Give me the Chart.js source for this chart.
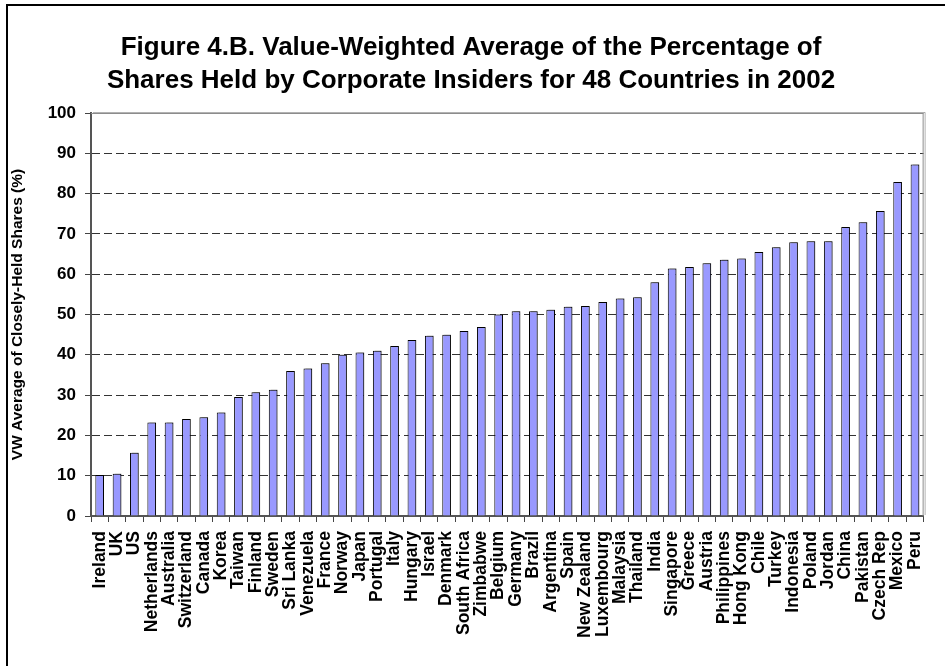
<!DOCTYPE html>
<html>
<head>
<meta charset="utf-8">
<title>Figure 4.B</title>
<script src="https://cdn.jsdelivr.net/npm/chart.js@4/dist/chart.umd.min.js"></script>
<style>
  html, body { margin: 0; padding: 0; background: #fff; }
  canvas { display: block; }
</style>
</head>
<body>
<canvas id="chart" width="945" height="666"></canvas>
<script>
const countries = [
  'Ireland', 'UK', 'US', 'Netherlands', 'Australia', 'Switzerland', 'Canada', 'Korea',
  'Taiwan', 'Finland', 'Sweden', 'Sri Lanka', 'Venezuela', 'France', 'Norway', 'Japan',
  'Portugal', 'Italy', 'Hungary', 'Israel', 'Denmark', 'South Africa', 'Zimbabwe', 'Belgium',
  'Germany', 'Brazil', 'Argentina', 'Spain', 'New Zealand', 'Luxembourg', 'Malaysia', 'Thailand',
  'India', 'Singapore', 'Greece', 'Austria', 'Philippines', 'Hong Kong', 'Chile', 'Turkey',
  'Indonesia', 'Poland', 'Jordan', 'China', 'Pakistan', 'Czech Rep', 'Mexico', 'Peru',
];
const insiderShares = [
  10.2, 10.5, 15.7, 23.2, 23.2, 24.1, 24.5, 25.7,
  29.5, 30.7, 31.3, 36.0, 36.6, 37.9, 40.0, 40.6,
  41.0, 42.2, 43.7, 44.7, 45.0, 45.9, 46.9, 50.0,
  50.8, 50.8, 51.2, 51.9, 52.1, 53.1, 54.0, 54.3,
  58.0, 61.4, 61.8, 62.7, 63.6, 63.9, 65.5, 66.7,
  67.9, 68.2, 68.2, 71.7, 72.9, 75.7, 82.9, 87.2,
];
const titleLines = [
  'Figure 4.B. Value-Weighted Average of the Percentage of',
  'Shares Held by Corporate Insiders for 48 Countries in 2002',
];
const yAxisTitle = 'VW Average of Closely-Held Shares (%)';
const yMin = 0;
const yMax = 100;
const yStep = 10;

const FONT = 'Arial, "Liberation Sans", sans-serif';

// white page, outer frame and the two-line title
const framePlugin = {
  id: 'frame',
  beforeDraw(chart) {
    const { ctx, width, height } = chart;
    ctx.save();
    ctx.fillStyle = '#fff';
    ctx.fillRect(0, 0, width, height);
    ctx.strokeStyle = '#000';
    ctx.lineWidth = 2;
    ctx.strokeRect(7, 5, width + 10, height + 10);
    ctx.fillStyle = '#000';
    ctx.font = `bold 26px ${FONT}`;
    ctx.textAlign = 'center';
    ctx.textBaseline = 'alphabetic';
    ctx.fillText(titleLines[0], 471, 55);
    ctx.fillText(titleLines[1], 471, 88);
    ctx.restore();
  },
  afterDatasetsDraw(chart) {
    const { ctx, chartArea } = chart;
    ctx.save();
    ctx.strokeStyle = '#8c8c8c';
    ctx.lineWidth = 1;
    ctx.beginPath();
    ctx.moveTo(chartArea.left, chartArea.top + 0.5);
    ctx.lineTo(chartArea.right - 0.5, chartArea.top + 0.5);
    ctx.lineTo(chartArea.right - 0.5, chartArea.bottom);
    ctx.stroke();
    ctx.restore();
  },
};

// grey drop shadow behind the bars, like the Excel original
const shadowPlugin = {
  id: 'barShadow',
  beforeDatasetsDraw(chart) {
    const { ctx } = chart;
    ctx.save();
    ctx.shadowColor = 'rgba(0, 0, 0, 0.3)';
    ctx.shadowOffsetX = 2;
    ctx.shadowOffsetY = -1;
    ctx.shadowBlur = 0;
  },
  afterDatasetsDraw(chart) {
    chart.ctx.restore();
  },
};

new Chart(document.getElementById('chart'), {
  type: 'bar',
  data: {
    labels: countries,
    datasets: [{
      data: insiderShares,
      backgroundColor: '#9999ff',
      borderColor: '#000',
      borderWidth: 1,
      barPercentage: 0.5,
      categoryPercentage: 1,
    }],
  },
  options: {
    responsive: false,
    animation: false,
    devicePixelRatio: 1,
    layout: { padding: { left: 8, top: 113, right: 4, bottom: 0 } },
    plugins: {
      legend: { display: false },
      tooltip: { enabled: false },
      title: { display: false },
    },
    scales: {
      x: {
        afterFit: scale => { scale.height = 150; },
        grid: {
          offset: true,
          drawOnChartArea: false,
          tickLength: 6,
          tickColor: '#444',
          tickWidth: 1,
        },
        border: { color: '#555', width: 2 },
        ticks: {
          autoSkip: false,
          minRotation: 90,
          maxRotation: 90,
          padding: 9,
          color: '#000',
          font: { family: FONT, size: 17.5, weight: 'bold' },
        },
      },
      y: {
        min: yMin,
        max: yMax,
        afterFit: scale => { scale.width = 83; },
        grid: {
          color: ctx => {
            if (!ctx.tick) return '#333';
            if (ctx.tick.value === yMin) return 'rgba(0,0,0,0)';
            if (ctx.tick.value === yMax) return '#8c8c8c';
            return '#333';
          },
          lineWidth: 1,
          tickLength: 6,
          tickColor: '#444',
        },
        border: {
          color: '#555',
          width: 2,
          dash: ctx => (ctx.tick && ctx.tick.value !== yMax ? [8, 4] : []),
        },
        ticks: {
          stepSize: yStep,
          padding: 9,
          color: '#000',
          font: { family: FONT, size: 17, weight: 'bold' },
        },
        title: {
          display: true,
          text: yAxisTitle,
          color: '#000',
          padding: 0,
          font: { family: FONT, size: 15.5, weight: 'bold' },
        },
      },
    },
  },
  plugins: [framePlugin, shadowPlugin],
});
</script>
</body>
</html>
